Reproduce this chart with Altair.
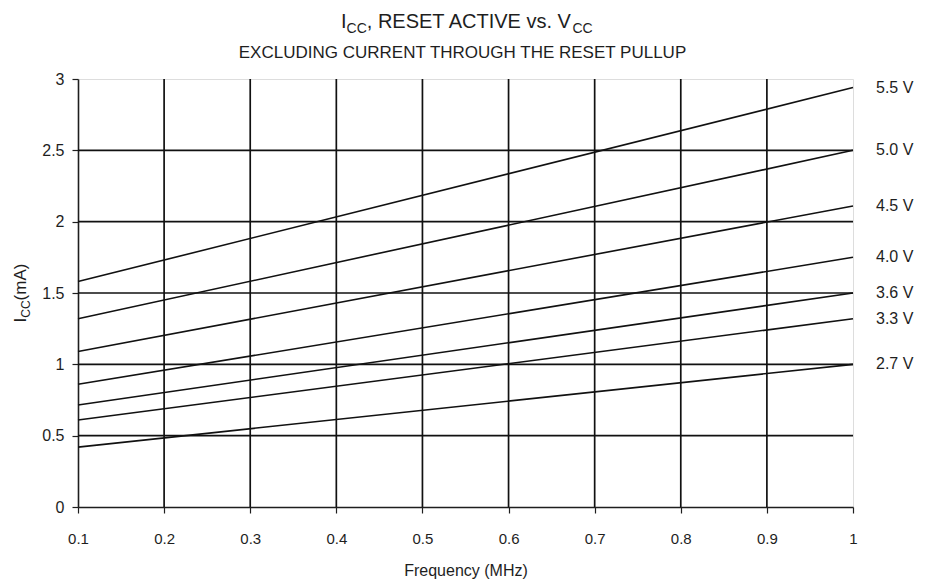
import altair as alt
import pandas as pd

# ---------------- data ----------------
series = ["5.5 V", "5.0 V", "4.5 V", "4.0 V", "3.6 V", "3.3 V", "2.7 V"]
freq_points = [0.1, 1.0]
icc_at_01 = [1.58, 1.32, 1.09, 0.86, 0.715, 0.61, 0.42]
icc_at_10 = [2.94, 2.50, 2.11, 1.75, 1.50, 1.32, 1.00]

x_ticks = [0.1, 0.2, 0.3, 0.4, 0.5, 0.6, 0.7, 0.8, 0.9, 1.0]
y_ticks = [0, 0.5, 1, 1.5, 2, 2.5, 3]
x_grid = [0.2, 0.3, 0.4, 0.5, 0.6, 0.7, 0.8, 0.9]
y_grid = [0.5, 1, 1.5, 2, 2.5]

title_main = ["I", "CC", ", RESET ACTIVE vs. V", "CC"]
subtitle = "EXCLUDING CURRENT THROUGH THE RESET PULLUP"
x_title = "Frequency (MHz)"
y_title = ["I", "CC", "(mA)"]

# ---------------- layout ----------------
FONT = "Liberation Sans"
INK = "#1e1e1e"
W, H = 775, 428
PAD_L, PAD_T = 70, 71
TOTAL_W, TOTAL_H = 911, 572

rows = []
for s, a, b in zip(series, icc_at_01, icc_at_10):
    rows.append({"series": s, "freq": freq_points[0], "icc": a})
    rows.append({"series": s, "freq": freq_points[1], "icc": b})
df = pd.DataFrame(rows)
df_end = pd.DataFrame({"series": series, "freq": [freq_points[1]] * len(series), "icc": icc_at_10})

xs = alt.Scale(domain=[0.1, 1.0], nice=False, zero=False)
ys = alt.Scale(domain=[0, 3], nice=False, zero=True)

AX_COMMON = dict(
    grid=False, domainColor=INK, domainWidth=1.6, tickColor=INK,
    tickSize=6, tickWidth=1.2, labelFont=FONT, labelColor=INK, labelFlush=False,
    titleFont=FONT, titleFontWeight="normal", titleColor=INK,
)

x_enc = alt.X("freq:Q", scale=xs,
              axis=alt.Axis(values=x_ticks, format="~g", labelPadding=18, labelFontSize=15,
                            title=x_title, titleFontSize=16, titlePadding=16, **AX_COMMON))
y_enc = alt.Y("icc:Q", scale=ys,
              axis=alt.Axis(values=y_ticks, format="~g", labelPadding=8, labelFontSize=16,
                            title=None, **AX_COMMON))

lines = alt.Chart(df).mark_line(color="#111111", strokeWidth=1.6).encode(
    x=x_enc, y=y_enc, detail="series:N"
)

vgrid = alt.Chart(pd.DataFrame({"freq": x_grid})).mark_rule(color="#111111", strokeWidth=1.7).encode(
    x=alt.X("freq:Q", scale=xs)
)
hgrid = alt.Chart(pd.DataFrame({"icc": y_grid})).mark_rule(color="#111111", strokeWidth=1.7).encode(
    y=alt.Y("icc:Q", scale=ys)
)

labels = alt.Chart(df_end).mark_text(
    align="left", baseline="middle", dx=23, font=FONT, fontSize=16, color=INK
).encode(x=alt.X("freq:Q", scale=xs), y=alt.Y("icc:Q", scale=ys), text="series:N")

# ---- composite text helpers (Arial / Liberation Sans widths) ----
CW = {"I": 278, "C": 722, ",": 278, " ": 278, "R": 722, "E": 667, "S": 667, "T": 611,
      "A": 667, "V": 667, "v": 500, "s": 500, ".": 278, "(": 333, ")": 333, "m": 833}


def tw(t, size):
    return sum(CW.get(c, 600) for c in t) * size / 1000.0


one = pd.DataFrame({"k": [0]})
text_layers = []

# main title with subscripts
t_sizes = [20, 14, 20, 14]
t_shift = [0, 5, 0, 5]
x0 = 341 - 78
base_y = -51
for t, s, sh in zip(title_main, t_sizes, t_shift):
    text_layers.append(alt.Chart(one).mark_text(
        text=t, align="left", baseline="alphabetic", font=FONT, fontSize=s, color=INK
    ).encode(x=alt.value(x0), y=alt.value(base_y + sh)))
    x0 += tw(t, s)

# subtitle
text_layers.append(alt.Chart(one).mark_text(
    text=subtitle, align="center", baseline="middle", font=FONT, fontSize=17, color=INK
).encode(x=alt.value(W / 2 - 3), y=alt.value(-26)))

# rotated y title with subscript
y_sizes = [17, 12, 17]
y_shift = [0, 4, 0]
ytotal = sum(tw(t, s) for t, s in zip(y_title, y_sizes))
y0 = H / 2 + ytotal / 2
bx = -52
for t, s, sh in zip(y_title, y_sizes, y_shift):
    text_layers.append(alt.Chart(one).mark_text(
        text=t, align="left", baseline="alphabetic", angle=270, font=FONT, fontSize=s, color=INK
    ).encode(x=alt.value(bx + sh), y=alt.value(y0)))
    y0 -= tw(t, s)

chart = alt.layer(vgrid, hgrid, lines, labels, *text_layers).properties(
    width=W, height=H,
    autosize=alt.AutoSizeParams(type="none"),
    padding={"left": PAD_L, "top": PAD_T, "right": TOTAL_W - PAD_L - W, "bottom": TOTAL_H - PAD_T - H},
).configure_view(stroke="#8c9096", strokeWidth=1.6).configure(background="white")

chart.save("out.html", embed_options={"renderer": "svg", "actions": False})
